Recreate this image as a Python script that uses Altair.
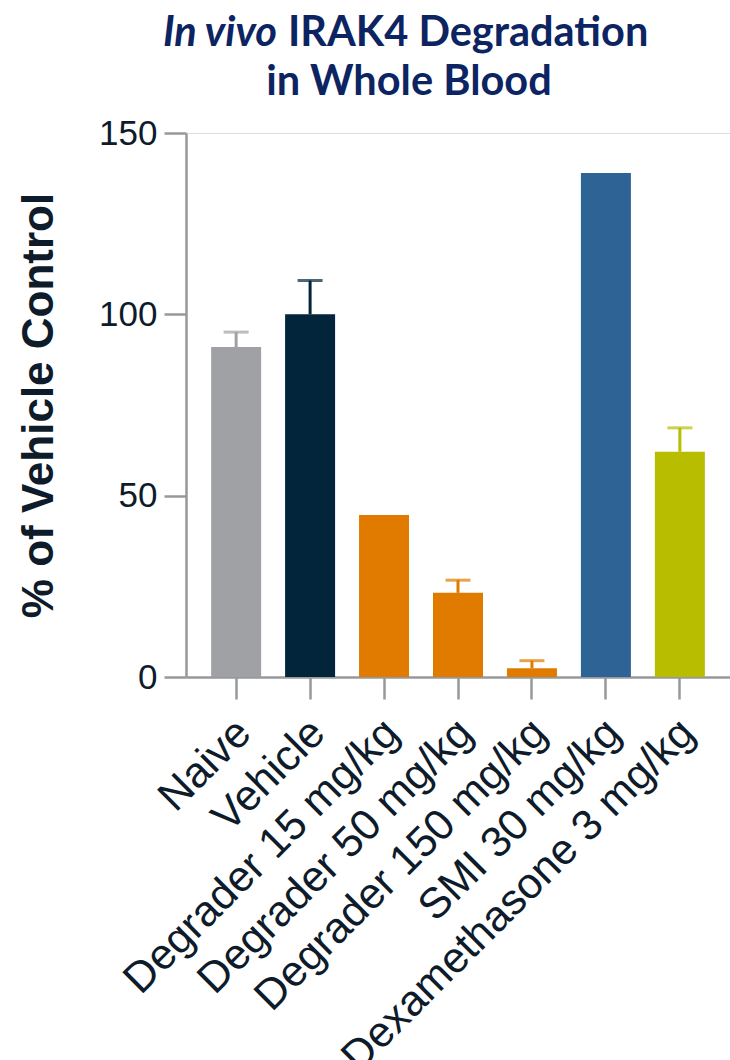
import altair as alt
import pandas as pd

# ---- data ----
categories = ["Naive", "Vehicle", "Degrader 15 mg/kg", "Degrader 50 mg/kg",
              "Degrader 150 mg/kg", "SMI 30 mg/kg", "Dexamethasone 3 mg/kg"]
values = [91.0, 100.0, 44.7, 23.2, 2.4, 139.0, 62.1]
errors = [4.1, 9.3, 0.0, 3.5, 2.1, 0.0, 6.6]
y_ticks = [0, 50, 100, 150]

title_italic = "In vivo"
title_rest = "IRAK4 Degradation"
title_line2 = "in Whole Blood"
y_title = "% of Vehicle Control"

# ---- styles ----
bar_colors = ["#a0a1a5", "#02253c", "#e07b00", "#e07b00", "#e07b00", "#2e6395", "#b8bd00"]
axis_gray = "#97989b"
text_dark = "#0d1b2a"
title_navy = "#0c2461"

df = pd.DataFrame({"cat": categories, "val": values, "err": errors})
df["upper"] = df["val"] + df["err"]
df_err = df[df["err"] > 0]

W, H = 544, 544

color_scale = alt.Scale(domain=categories, range=bar_colors)
x_enc = alt.X("cat:N", sort=categories,
              scale=alt.Scale(paddingInner=0.324, paddingOuter=0.34),
              axis=alt.Axis(title=None, labelAngle=-45, labelFontSize=43,
                            labelFont="Liberation Sans", labelColor=text_dark,
                            tickSize=22, tickWidth=2.5, tickColor=axis_gray,
                            domainColor=axis_gray, domainWidth=2.5,
                            labelPadding=12, labelOffset=-7, labelLimit=1000))

bars = alt.Chart(df).mark_bar().encode(
    x=x_enc,
    y=alt.Y("val:Q", scale=alt.Scale(domain=[0, 150], nice=False),
            axis=alt.Axis(title=y_title, values=y_ticks, grid=False,
                          labelFontSize=35, labelFont="Liberation Sans",
                          labelColor=text_dark, labelPadding=7,
                          tickSize=22, tickWidth=2.5, tickColor=axis_gray,
                          domainColor=axis_gray, domainWidth=2.5,
                          titleFont="Liberation Sans", titleFontSize=44,
                          titleFontWeight="bold", titleColor=text_dark,
                          titleAngle=-90, titleAlign="center",
                          titleBaseline="alphabetic", titleX=-134, titleY=H / 2)),
    color=alt.Color("cat:N", scale=color_scale, legend=None),
)

err_rule = alt.Chart(df_err).mark_rule(strokeWidth=3).encode(
    x=alt.X("cat:N", sort=categories),
    y="val:Q",
    y2="upper:Q",
    color=alt.Color("cat:N", scale=color_scale, legend=None),
)

err_cap = alt.Chart(df_err).mark_tick(thickness=3, size=25, orient="horizontal").encode(
    x=alt.X("cat:N", sort=categories),
    y="upper:Q",
    color=alt.Color("cat:N", scale=color_scale, legend=None),
)

t1a = alt.Chart(pd.DataFrame({"t": [title_italic]})).mark_text(
    font="Lato", fontSize=41.5, fontWeight="bold", fontStyle="italic",
    color=title_navy, align="right", baseline="alphabetic"
).encode(text="t:N", x=alt.value(91), y=alt.value(-87))

t1b = alt.Chart(pd.DataFrame({"t": [title_rest]})).mark_text(
    font="Lato", fontSize=41.5, fontWeight="bold",
    color=title_navy, align="left", baseline="alphabetic"
).encode(text="t:N", x=alt.value(102), y=alt.value(-87))

t2 = alt.Chart(pd.DataFrame({"t": [title_line2]})).mark_text(
    font="Lato", fontSize=41.5, fontWeight="bold",
    color=title_navy, align="center", baseline="alphabetic"
).encode(text="t:N", x=alt.value(223), y=alt.value(-38))

chart = alt.layer(bars, err_rule, err_cap, t1a, t1b, t2).properties(
    width=W, height=H,
    autosize=alt.AutoSizeParams(type="none"),
    padding={"left": 186, "top": 133, "right": 0, "bottom": 383},
).configure_view(stroke=None).configure(background="white")

chart.save("out.html", embed_options={"renderer": "svg", "actions": False})
